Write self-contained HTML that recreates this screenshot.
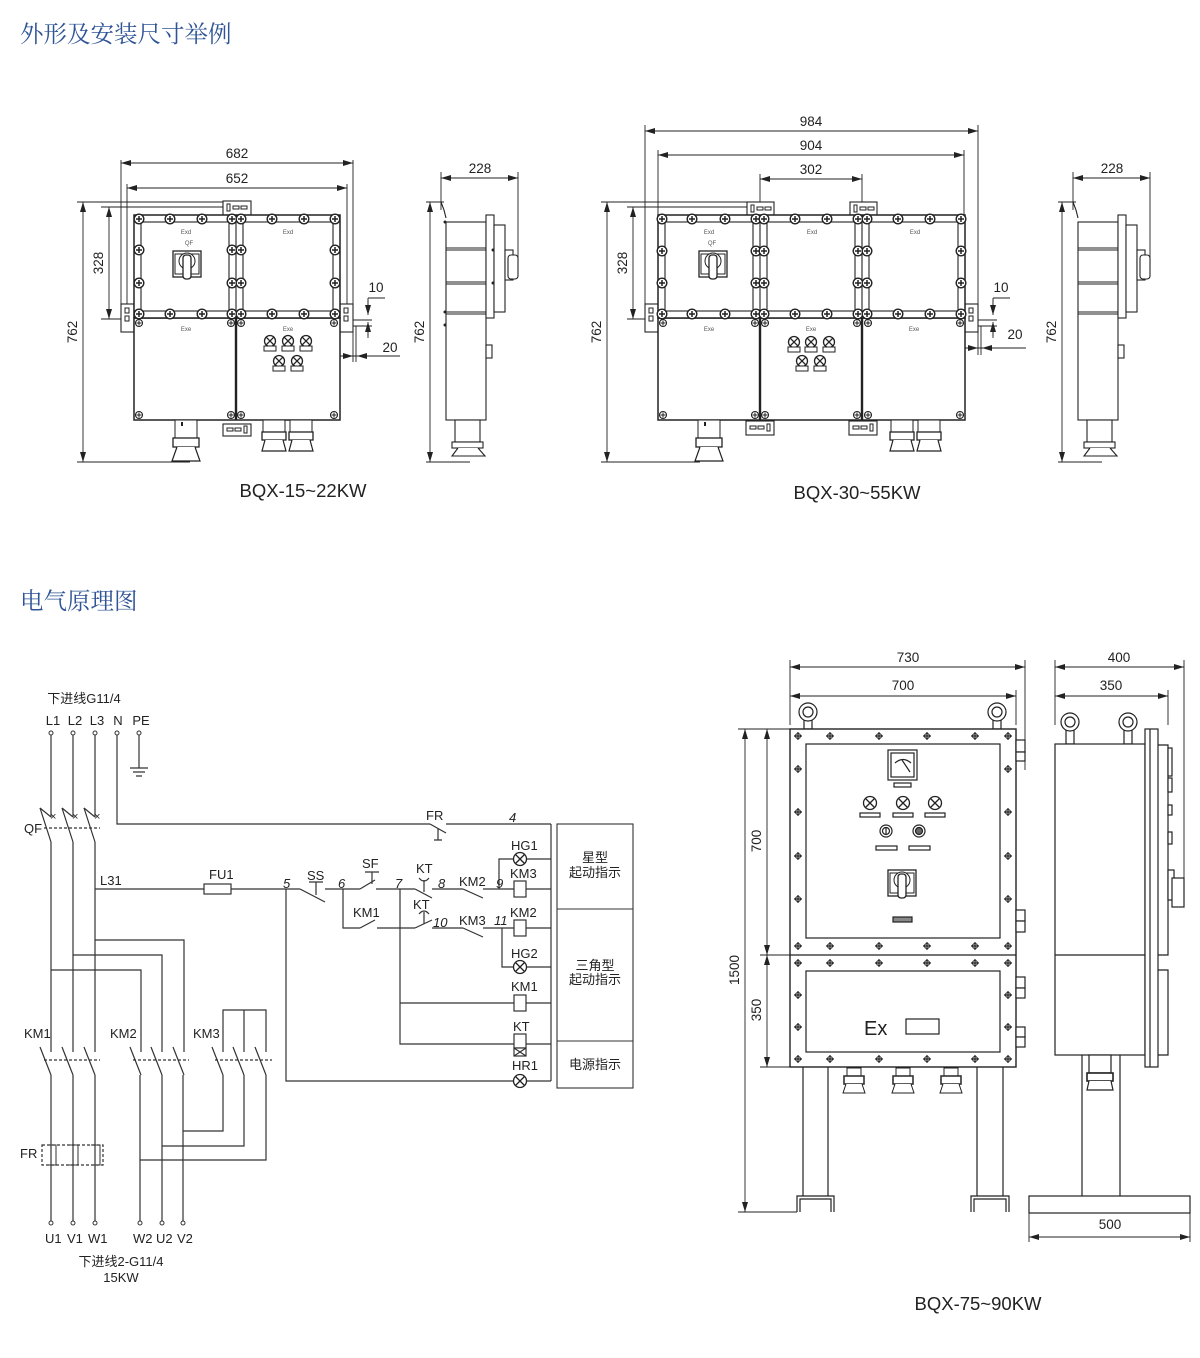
<!DOCTYPE html>
<html><head><meta charset="utf-8"><style>
html,body{margin:0;padding:0;background:#fff;}
svg{display:block;}
text{font-family:"Liberation Sans","Noto Sans CJK SC",sans-serif;fill:#222;}
.t{font-family:"Liberation Serif","Noto Serif CJK SC",serif;fill:#2f5496;font-size:23.5px;}
.d{font-size:13.5px;}
.tiny{font-size:6px;fill:#555;}
</style></head><body>
<svg width="1200" height="1358" viewBox="0 0 1200 1358" xmlns="http://www.w3.org/2000/svg">
<defs>
<marker id="a" viewBox="0 0 10 6" refX="10" refY="3" markerWidth="10" markerHeight="6" orient="auto-start-reverse" markerUnits="userSpaceOnUse"><path d="M0,0L10,3L0,6z" fill="#222"/></marker>
<g id="b"><circle r="4.8" fill="#fff" stroke="#222" stroke-width="1.4"/><path d="M-3,0H3M0,-3V3" stroke="#222" stroke-width="1.5"/></g>
<g id="sc"><circle r="3.5" fill="#fff" stroke="#222" stroke-width="1.1"/><path d="M-2.5,0H2.5M0,-2.5V2.5" stroke="#222"/></g>
<g id="fb"><path d="M-4,0H4M0,-4V4" stroke="#222" stroke-width="1.2"/><circle r="2.5" fill="none" stroke="#222" stroke-width="1.1"/></g>
<g id="lp"><circle r="5.5" fill="#fff" stroke="#222" stroke-width="1.3"/><path d="M-3.8,-3.8L3.8,3.8M3.8,-3.8L-3.8,3.8" stroke="#222" stroke-width="1.3"/><rect x="-6" y="5" width="12" height="5" fill="#fff" stroke="#222"/></g>
<g id="xl"><circle r="6.5" fill="#fff" stroke="#222" stroke-width="1.3"/><path d="M-4.5,-4.5L4.5,4.5M4.5,-4.5L-4.5,4.5" stroke="#222" stroke-width="1.3"/></g>
<g id="gl"><rect x="-11" y="0" width="22" height="18" fill="#fff" stroke="#222"/><rect x="-13" y="18" width="26" height="9" fill="#fff" stroke="#222" stroke-width="1.3"/><path d="M-9,27L-14,41H14L9,27" fill="#fff" stroke="#222" stroke-width="1.2"/><rect x="-5" y="2" width="2" height="4" fill="#222"/></g>
<g id="gl2"><rect x="-11" y="0" width="22" height="12" fill="#fff" stroke="#222"/><rect x="-12" y="12" width="24" height="8" fill="#fff" stroke="#222" stroke-width="1.3"/><path d="M-9,20L-12,31H12L9,20" fill="#fff" stroke="#222" stroke-width="1.2"/></g>
<g id="gb"><rect x="-7" y="0" width="14" height="8" fill="#fff" stroke="#222"/><rect x="-10" y="8" width="20" height="8" fill="#fff" stroke="#333" stroke-width="1.6"/><path d="M-8,16L-11,25H11L8,16" fill="#fff" stroke="#222"/></g>
<g id="sw"><rect x="-14" y="0" width="28" height="26" fill="#fff" stroke="#222" stroke-width="1.3"/><rect x="-12" y="3" width="24" height="20" fill="none" stroke="#222"/><circle cx="0" cy="10" r="8" fill="#fff" stroke="#222"/><rect x="-4" y="4" width="8" height="24" rx="3" fill="#fff" stroke="#222" stroke-width="1.3"/></g>
</defs>

<text class="t" x="20" y="42">外形及安装尺寸举例</text>
<text class="t" x="20" y="609">电气原理图</text>

<g stroke="#222" stroke-width="0.9" fill="none">
<path d="M121,160V330M353,160V330M127,184V305M347,184V305"/>
<path d="M121,163H353" marker-start="url(#a)" marker-end="url(#a)"/>
<path d="M127,188H347" marker-start="url(#a)" marker-end="url(#a)"/>
<path d="M77,202H240M101,207H230M77,462H190M101,319H134"/>
<path d="M83,202V462" marker-start="url(#a)" marker-end="url(#a)"/>
<path d="M109,207V319" marker-start="url(#a)" marker-end="url(#a)"/>
<path d="M368,298H385M368,298V310M368,336V325M348,320H372M348,326H372M353,326V362M356,326V362M344,356H400M348,356H340" />
<path d="M368,300V315" marker-end="url(#a)"/><path d="M368,338V322" marker-end="url(#a)"/>
<path d="M340,356H353" marker-end="url(#a)"/><path d="M372,356H357" marker-end="url(#a)"/>
<path d="M441,172V210M518,172V260"/>
<path d="M441,178H518" marker-start="url(#a)" marker-end="url(#a)"/>
<path d="M426,202H444M426,462H470"/>
<path d="M430,202V462" marker-start="url(#a)" marker-end="url(#a)"/>
</g>
<text class="d" x="237" y="158" text-anchor="middle">682</text>
<text class="d" x="237" y="183" text-anchor="middle">652</text>
<text class="d" x="77" y="332" text-anchor="middle" transform="rotate(-90 77 332)">762</text>
<text class="d" x="103" y="263" text-anchor="middle" transform="rotate(-90 103 263)">328</text>
<text class="d" x="376" y="292" text-anchor="middle">10</text>
<text class="d" x="390" y="352" text-anchor="middle">20</text>
<text class="d" x="480" y="173" text-anchor="middle">228</text>
<text class="d" x="424" y="332" text-anchor="middle" transform="rotate(-90 424 332)">762</text>

<g stroke="#222" fill="#fff" stroke-width="1.1">
<rect x="223" y="201" width="28" height="14"/>
<rect x="121" y="304" width="13" height="28"/>
<rect x="340" y="304" width="13" height="28"/>
<rect x="134" y="318" width="206" height="102" stroke-width="1.5"/>
<rect x="134" y="215" width="206" height="103" stroke-width="1.5"/>
<rect x="141" y="222" width="88" height="89"/>
<rect x="243" y="222" width="90" height="89"/>
<path d="M236,215V318" />
<path d="M236,318V420" stroke-width="2.4"/>
<rect x="223" y="424" width="28" height="12"/>
</g>
<g fill="none" stroke="#222" stroke-width="1"><rect x="227" y="204" width="3" height="7"/><rect x="233" y="206" width="6" height="3"/><rect x="241" y="206" width="6" height="3"/>
<rect x="125" y="308" width="4" height="5"/><rect x="125" y="316" width="4" height="5"/><rect x="344" y="308" width="4" height="5"/><rect x="344" y="316" width="4" height="5"/>
<rect x="227" y="428" width="6" height="3"/><rect x="235" y="428" width="6" height="3"/><rect x="244" y="426" width="3" height="7"/></g>
<g>
<use href="#b" x="139" y="219"/><use href="#b" x="170" y="219"/><use href="#b" x="202" y="219"/><use href="#b" x="232" y="219"/><use href="#b" x="241" y="219"/><use href="#b" x="272" y="219"/><use href="#b" x="304" y="219"/><use href="#b" x="335" y="219"/>
<use href="#b" x="139" y="314"/><use href="#b" x="170" y="314"/><use href="#b" x="202" y="314"/><use href="#b" x="232" y="314"/><use href="#b" x="241" y="314"/><use href="#b" x="272" y="314"/><use href="#b" x="304" y="314"/><use href="#b" x="335" y="314"/>
<use href="#b" x="139" y="250"/><use href="#b" x="139" y="283"/><use href="#b" x="232" y="250"/><use href="#b" x="232" y="283"/><use href="#b" x="241" y="250"/><use href="#b" x="241" y="283"/><use href="#b" x="335" y="250"/><use href="#b" x="335" y="283"/>
<use href="#sc" x="139" y="323"/><use href="#sc" x="231" y="323"/><use href="#sc" x="241" y="323"/><use href="#sc" x="334" y="323"/>
<use href="#sc" x="139" y="415"/><use href="#sc" x="231" y="415"/><use href="#sc" x="241" y="415"/><use href="#sc" x="334" y="415"/>
<use href="#sw" x="187" y="251"/>
<use href="#lp" x="270" y="341"/><use href="#lp" x="288" y="341"/><use href="#lp" x="306" y="341"/>
<use href="#lp" x="279" y="361"/><use href="#lp" x="297" y="361"/>
<use href="#gl" x="186" y="420"/><use href="#gl2" x="274" y="420"/><use href="#gl2" x="301" y="420"/>
</g>
<text class="tiny" x="186" y="234" text-anchor="middle">Exd</text><text class="tiny" x="288" y="234" text-anchor="middle">Exd</text>
<text class="tiny" x="189" y="245" text-anchor="middle">QF</text>
<text class="tiny" x="186" y="331" text-anchor="middle">Exe</text><text class="tiny" x="288" y="331" text-anchor="middle">Exe</text>

<g stroke="#222" fill="#fff" stroke-width="1.1">
<path d="M441,202L444,210L446,218" fill="none"/>
<rect x="446" y="222" width="40" height="198"/>
<rect x="486" y="215" width="8" height="103"/>
<rect x="494" y="225" width="11" height="87"/>
<rect x="505" y="250" width="8" height="30"/>
<rect x="508" y="255" width="10" height="24" rx="3"/>
<path d="M446,248H486M446,250H486M446,282H486M446,284H486M446,312H486M446,314H486"/>
<rect x="486" y="345" width="6" height="13"/>
<rect x="455" y="420" width="25" height="22"/>
<rect x="452" y="442" width="31" height="6"/>
<path d="M458,448L452,456H485L478,448"/>
</g>
<g fill="#222"><circle cx="445" cy="222" r="1.5"/><circle cx="445" cy="312" r="1.5"/><circle cx="445" cy="325" r="1.5"/><circle cx="493" cy="250" r="1.5"/><circle cx="493" cy="283" r="1.5"/></g>

<g stroke="#222" stroke-width="0.9" fill="none">
<path d="M645,125V330M978,125V330M658,150V305M964,150V305M760,174V210M862,174V210"/>
<path d="M645,131H978" marker-start="url(#a)" marker-end="url(#a)"/>
<path d="M658,155H964" marker-start="url(#a)" marker-end="url(#a)"/>
<path d="M760,179H862" marker-start="url(#a)" marker-end="url(#a)"/>
<path d="M601,202H760M627,207H750M601,462H700M627,319H658"/>
<path d="M607,202V462" marker-start="url(#a)" marker-end="url(#a)"/>
<path d="M633,207V319" marker-start="url(#a)" marker-end="url(#a)"/>
<path d="M993,298H1010M993,298V310M993,336V325M973,320H997M973,326H997M978,326V355M981,326V355M944,348H1026"/>
<path d="M993,300V315" marker-end="url(#a)"/><path d="M993,338V322" marker-end="url(#a)"/>
<path d="M965,348H978" marker-end="url(#a)"/><path d="M997,348H982" marker-end="url(#a)"/>
<path d="M1073,172V210M1150,172V260"/>
<path d="M1073,178H1150" marker-start="url(#a)" marker-end="url(#a)"/>
<path d="M1058,202H1076M1058,462H1102"/>
<path d="M1062,202V462" marker-start="url(#a)" marker-end="url(#a)"/>
</g>
<text class="d" x="811" y="126" text-anchor="middle">984</text>
<text class="d" x="811" y="150" text-anchor="middle">904</text>
<text class="d" x="811" y="174" text-anchor="middle">302</text>
<text class="d" x="601" y="332" text-anchor="middle" transform="rotate(-90 601 332)">762</text>
<text class="d" x="627" y="263" text-anchor="middle" transform="rotate(-90 627 263)">328</text>
<text class="d" x="1001" y="292" text-anchor="middle">10</text>
<text class="d" x="1015" y="339" text-anchor="middle">20</text>
<text class="d" x="1112" y="173" text-anchor="middle">228</text>
<text class="d" x="1056" y="332" text-anchor="middle" transform="rotate(-90 1056 332)">762</text>

<g stroke="#222" fill="#fff" stroke-width="1.1">
<rect x="747" y="202" width="27" height="13"/><rect x="850" y="202" width="27" height="13"/>
<rect x="645" y="304" width="13" height="28"/><rect x="965" y="304" width="13" height="28"/>
<rect x="658" y="318" width="307" height="102" stroke-width="1.5"/>
<rect x="658" y="215" width="307" height="103" stroke-width="1.5"/>
<rect x="665" y="222" width="88" height="89"/><rect x="767" y="222" width="88" height="89"/><rect x="869" y="222" width="89" height="89"/>
<path d="M760,215V318M862,215V318"/>
<path d="M760,318V420M862,318V420" stroke-width="2.4"/>
<rect x="746" y="421" width="28" height="14"/><rect x="849" y="421" width="28" height="14"/>
</g>
<g fill="none" stroke="#222"><rect x="751" y="205" width="3" height="7"/><rect x="757" y="207" width="6" height="3"/><rect x="765" y="207" width="6" height="3"/>
<rect x="854" y="205" width="3" height="7"/><rect x="860" y="207" width="6" height="3"/><rect x="868" y="207" width="6" height="3"/>
<rect x="649" y="308" width="4" height="5"/><rect x="649" y="316" width="4" height="5"/><rect x="969" y="308" width="4" height="5"/><rect x="969" y="316" width="4" height="5"/>
<rect x="750" y="426" width="6" height="3"/><rect x="758" y="426" width="6" height="3"/><rect x="767" y="424" width="3" height="7"/>
<rect x="853" y="426" width="6" height="3"/><rect x="861" y="426" width="6" height="3"/><rect x="870" y="424" width="3" height="7"/></g>
<g>
<use href="#b" x="662" y="219"/><use href="#b" x="692" y="219"/><use href="#b" x="725" y="219"/><use href="#b" x="756" y="219"/><use href="#b" x="764" y="219"/><use href="#b" x="795" y="219"/><use href="#b" x="827" y="219"/><use href="#b" x="858" y="219"/><use href="#b" x="867" y="219"/><use href="#b" x="898" y="219"/><use href="#b" x="930" y="219"/><use href="#b" x="961" y="219"/>
<use href="#b" x="662" y="314"/><use href="#b" x="692" y="314"/><use href="#b" x="725" y="314"/><use href="#b" x="756" y="314"/><use href="#b" x="764" y="314"/><use href="#b" x="795" y="314"/><use href="#b" x="827" y="314"/><use href="#b" x="858" y="314"/><use href="#b" x="867" y="314"/><use href="#b" x="898" y="314"/><use href="#b" x="930" y="314"/><use href="#b" x="961" y="314"/>
<use href="#b" x="662" y="251"/><use href="#b" x="662" y="283"/><use href="#b" x="756" y="251"/><use href="#b" x="756" y="283"/><use href="#b" x="764" y="251"/><use href="#b" x="764" y="283"/><use href="#b" x="858" y="251"/><use href="#b" x="858" y="283"/><use href="#b" x="867" y="251"/><use href="#b" x="867" y="283"/><use href="#b" x="961" y="251"/><use href="#b" x="961" y="283"/>
<use href="#sc" x="663" y="323"/><use href="#sc" x="755" y="323"/><use href="#sc" x="765" y="323"/><use href="#sc" x="857" y="323"/><use href="#sc" x="868" y="323"/><use href="#sc" x="960" y="323"/>
<use href="#sc" x="663" y="415"/><use href="#sc" x="755" y="415"/><use href="#sc" x="765" y="415"/><use href="#sc" x="857" y="415"/><use href="#sc" x="868" y="415"/><use href="#sc" x="960" y="415"/>
<use href="#sw" x="713" y="251"/>
<use href="#lp" x="794" y="342"/><use href="#lp" x="811" y="342"/><use href="#lp" x="829" y="342"/>
<use href="#lp" x="802" y="361"/><use href="#lp" x="820" y="361"/>
<use href="#gl" x="709" y="420"/><use href="#gl2" x="902" y="420"/><use href="#gl2" x="929" y="420"/>
</g>
<text class="tiny" x="709" y="234" text-anchor="middle">Exd</text><text class="tiny" x="812" y="234" text-anchor="middle">Exd</text><text class="tiny" x="915" y="234" text-anchor="middle">Exd</text>
<text class="tiny" x="712" y="245" text-anchor="middle">QF</text>
<text class="tiny" x="709" y="331" text-anchor="middle">Exe</text><text class="tiny" x="811" y="331" text-anchor="middle">Exe</text><text class="tiny" x="914" y="331" text-anchor="middle">Exe</text>

<g stroke="#222" fill="#fff" stroke-width="1.1">
<path d="M1073,202L1076,210L1078,218" fill="none"/>
<rect x="1078" y="222" width="40" height="198"/>
<rect x="1118" y="215" width="8" height="103"/>
<rect x="1126" y="225" width="11" height="87"/>
<rect x="1137" y="250" width="8" height="30"/>
<rect x="1140" y="255" width="10" height="24" rx="3"/>
<path d="M1078,248H1118M1078,250H1118M1078,282H1118M1078,284H1118M1078,312H1118M1078,314H1118"/>
<rect x="1118" y="345" width="6" height="13"/>
<rect x="1087" y="420" width="25" height="22"/>
<rect x="1084" y="442" width="31" height="6"/>
<path d="M1090,448L1084,456H1117L1110,448"/>
</g>

<text x="303" y="497" font-size="18.5" text-anchor="middle">BQX-15~22KW</text>
<text x="857" y="499" font-size="18.5" text-anchor="middle">BQX-30~55KW</text>

<g stroke="#333" stroke-width="1.2" fill="none">
<path d="M51,733V817M73,733V817M95,733V817M117,733V824H430M446,824H551M139,733V768"/>
<path d="M130,768H148M133,772H145M136,776H142"/>
<path d="M51,817L40,808M73,817L62,808M95,817L84,808" />
<path d="M40,808L51,842M62,808L73,842M84,808L95,842"/>
<path d="M51,842V1052M73,842V1052M95,842V1052"/>
<path d="M44,828H100" stroke-dasharray="3,2"/>
<path d="M95,889H204M231,889H300M286,889V1081H514M526,1081H551"/>
<rect x="204" y="884" width="27" height="10"/>
<path d="M300,889L325,902M316,895V882M309,882H323M325,889H343"/>
<path d="M343,889H360M360,889L375,880M372,884V872M365,872H379M376,889H400"/>
<path d="M400,889H415M415,889L432,898M424,892V880M419,878Q424,884 429,878M432,889H463M463,889L483,898M483,889H514M526,889H551"/>
<path d="M499,889V859H514M526,859H551"/>
<rect x="514" y="881" width="12" height="16" fill="#fff"/>
<path d="M343,889V928H360M360,928L375,920M377,928H415M415,928L432,920M424,924V912M419,914Q424,908 429,914M432,928H463M463,928L483,937M483,928H514M526,928H551"/>
<path d="M502,928V967H514M526,967H551"/>
<rect x="514" y="920" width="12" height="16" fill="#fff"/>
<path d="M400,889V1044H514M400,1003H514M526,1003H551M526,1044H551M551,824V1081"/>
<rect x="514" y="995" width="12" height="16" fill="#fff"/>
<rect x="514" y="1034" width="12" height="14" fill="#fff"/>
<rect x="514" y="1048" width="12" height="8" fill="#fff"/><path d="M514,1048L526,1056M526,1048L514,1056"/>
<path d="M430,824L446,833M438,828V840M434,840H442"/>
<path d="M95,940H184V1052M73,955H162V1052M51,970H141V1052"/>
<path d="M223,1052V1010H266V1052M244,1010V1052"/>
<path d="M51,1075L40,1047M73,1075L62,1047M95,1075L84,1047M141,1075L130,1047M162,1075L151,1047M184,1075L173,1047M223,1075L212,1047M244,1075L233,1047M266,1075L255,1047"/>
<path d="M44,1060H100M133,1060H189M215,1060H272" stroke-dasharray="3,2"/>
<path d="M51,1075V1223M73,1075V1223M95,1075V1223M140,1075V1223M162,1075V1223M183,1075V1223"/>
<path d="M223,1075V1131H183M244,1075V1146H162M266,1075V1160H140"/>
<rect x="42" y="1145" width="61" height="20" stroke-dasharray="3,2"/>
</g>
<g fill="#fff" stroke="#333" stroke-width="1">
<path d="M47,1145H56V1165H47M69,1145H78V1165H69M91,1145H100V1165H91" fill="none"/>
<circle cx="51" cy="733" r="2"/><circle cx="73" cy="733" r="2"/><circle cx="95" cy="733" r="2"/><circle cx="117" cy="733" r="2"/><circle cx="139" cy="733" r="2"/>
<circle cx="51" cy="1223" r="2"/><circle cx="73" cy="1223" r="2"/><circle cx="95" cy="1223" r="2"/><circle cx="140" cy="1223" r="2"/><circle cx="162" cy="1223" r="2"/><circle cx="183" cy="1223" r="2"/>
</g>
<g fill="#222" stroke="none">
<text x="50" y="820" font-size="11">×</text><text x="72" y="820" font-size="11">×</text><text x="94" y="820" font-size="11">×</text>
</g>
<use href="#xl" x="520" y="859"/><use href="#xl" x="520" y="967"/><use href="#xl" x="520" y="1081"/>
<g stroke="#333" fill="#fff" stroke-width="1.1"><rect x="557" y="824" width="76" height="264"/><path d="M557,909H633M557,1041H633"/></g>
<g font-size="13">
<text x="84" y="703" text-anchor="middle">下进线G11/4</text>
<text x="53" y="725" text-anchor="middle">L1</text><text x="75" y="725" text-anchor="middle">L2</text><text x="97" y="725" text-anchor="middle">L3</text><text x="118" y="725" text-anchor="middle">N</text><text x="141" y="725" text-anchor="middle">PE</text>
<text x="24" y="833">QF</text>
<text x="100" y="885">L31</text>
<text x="209" y="879">FU1</text>
<text x="283" y="888" font-style="italic">5</text>
<text x="307" y="880">SS</text>
<text x="338" y="888" font-style="italic">6</text>
<text x="362" y="868">SF</text>
<text x="395" y="888" font-style="italic">7</text>
<text x="416" y="873">KT</text>
<text x="438" y="888" font-style="italic">8</text>
<text x="459" y="886">KM2</text>
<text x="496" y="888" font-style="italic">9</text>
<text x="426" y="820">FR</text>
<text x="509" y="822" font-style="italic">4</text>
<text x="353" y="917">KM1</text>
<text x="413" y="909">KT</text>
<text x="433" y="927" font-style="italic">10</text>
<text x="459" y="925">KM3</text>
<text x="494" y="925" font-style="italic">11</text>
<text x="511" y="850">HG1</text>
<text x="510" y="878">KM3</text>
<text x="510" y="917">KM2</text>
<text x="511" y="958">HG2</text>
<text x="511" y="991">KM1</text>
<text x="513" y="1031">KT</text>
<text x="512" y="1070">HR1</text>
<text x="595" y="862" text-anchor="middle">星型</text>
<text x="595" y="877" text-anchor="middle">起动指示</text>
<text x="595" y="970" text-anchor="middle">三角型</text>
<text x="595" y="984" text-anchor="middle">起动指示</text>
<text x="595" y="1069" text-anchor="middle">电源指示</text>
<text x="24" y="1038">KM1</text><text x="110" y="1038">KM2</text><text x="193" y="1038">KM3</text>
<text x="20" y="1158">FR</text>
<text x="45" y="1243">U1</text><text x="67" y="1243">V1</text><text x="88" y="1243">W1</text>
<text x="133" y="1243">W2</text><text x="156" y="1243">U2</text><text x="177" y="1243">V2</text>
<text x="121" y="1266" text-anchor="middle">下进线2-G11/4</text>
<text x="121" y="1282" text-anchor="middle">15KW</text>
</g>

<g stroke="#222" stroke-width="0.9" fill="none">
<path d="M790,660V725M1025,660V770M1016,690V725"/>
<path d="M790,667H1025" marker-start="url(#a)" marker-end="url(#a)"/>
<path d="M790,696H1016" marker-start="url(#a)" marker-end="url(#a)"/>
<path d="M738,729H790M760,955H790M760,1067H790M738,1212H797"/>
<path d="M745,729V1212" marker-start="url(#a)" marker-end="url(#a)"/>
<path d="M767,729V955" marker-start="url(#a)" marker-end="url(#a)"/>
<path d="M767,955V1067" marker-start="url(#a)" marker-end="url(#a)"/>
<path d="M1055,660V725M1184,660V880M1168,690V725"/>
<path d="M1055,667H1184" marker-start="url(#a)" marker-end="url(#a)"/>
<path d="M1055,696H1168" marker-start="url(#a)" marker-end="url(#a)"/>
<path d="M1029,1213V1242M1190,1213V1242"/>
<path d="M1029,1237H1190" marker-start="url(#a)" marker-end="url(#a)"/>
</g>
<text class="d" x="908" y="662" text-anchor="middle">730</text>
<text class="d" x="903" y="690" text-anchor="middle">700</text>
<text class="d" x="739" y="970" text-anchor="middle" transform="rotate(-90 739 970)">1500</text>
<text class="d" x="761" y="841" text-anchor="middle" transform="rotate(-90 761 841)">700</text>
<text class="d" x="761" y="1010" text-anchor="middle" transform="rotate(-90 761 1010)">350</text>
<text class="d" x="1119" y="662" text-anchor="middle">400</text>
<text class="d" x="1111" y="690" text-anchor="middle">350</text>
<text class="d" x="1110" y="1229" text-anchor="middle">500</text>

<g stroke="#222" fill="#fff" stroke-width="1.2">
<path d="M803,1067V1196M828,1067V1196M977,1067V1196M1003,1067V1196"/>
<path d="M797,1212V1196H834V1212M800,1212V1199H831V1212" fill="none"/>
<path d="M971,1212V1196H1009V1212M974,1212V1199H1006V1212" fill="none"/>
<rect x="804" y="720" width="8" height="9"/><circle cx="808" cy="712" r="9"/><circle cx="808" cy="712" r="5"/>
<rect x="993" y="720" width="8" height="9"/><circle cx="997" cy="712" r="9"/><circle cx="997" cy="712" r="5"/>
<rect x="790" y="729" width="226" height="338" stroke-width="1.4"/>
<path d="M790,955H1016"/>
<rect x="806" y="744" width="194" height="194"/>
<rect x="806" y="971" width="194" height="81"/>
<rect x="1016" y="740" width="9" height="12"/><rect x="1016" y="752" width="9" height="9"/>
<rect x="1016" y="910" width="9" height="11"/><rect x="1016" y="921" width="9" height="11"/>
<rect x="1016" y="977" width="9" height="11"/><rect x="1016" y="988" width="9" height="10"/>
<rect x="1016" y="1027" width="9" height="10"/><rect x="1016" y="1037" width="9" height="10"/>
<rect x="888" y="750" width="29" height="30"/><rect x="891" y="753" width="23" height="24"/>
<path d="M895,763Q903,756 911,763M902,760L910,772" fill="none"/>
<rect x="894" y="783" width="17" height="4"/>
<rect x="860" y="813" width="20" height="4"/><rect x="893" y="813" width="20" height="4"/><rect x="925" y="813" width="20" height="4"/>
<circle cx="886" cy="831" r="6"/><circle cx="886" cy="831" r="3.5"/><path d="M886,828V834"/>
<circle cx="919" cy="831" r="6"/><circle cx="919" cy="831" r="3.5" fill="#666"/>
<rect x="876" y="846" width="21" height="4"/><rect x="909" y="846" width="21" height="4"/>
<rect x="893" y="917" width="19" height="5" fill="#888"/>
<rect x="906" y="1019" width="33" height="15"/>
</g>
<use href="#xl" x="870" y="803"/><use href="#xl" x="903" y="803"/><use href="#xl" x="935" y="803"/>
<use href="#sw" x="902" y="870"/>
<g>
<use href="#fb" x="798" y="736"/><use href="#fb" x="830" y="736"/><use href="#fb" x="879" y="736"/><use href="#fb" x="927" y="736"/><use href="#fb" x="975" y="736"/><use href="#fb" x="1008" y="736"/>
<use href="#fb" x="798" y="769"/><use href="#fb" x="798" y="812"/><use href="#fb" x="798" y="856"/><use href="#fb" x="798" y="899"/>
<use href="#fb" x="1008" y="769"/><use href="#fb" x="1008" y="812"/><use href="#fb" x="1008" y="856"/><use href="#fb" x="1008" y="899"/>
<use href="#fb" x="798" y="946"/><use href="#fb" x="830" y="946"/><use href="#fb" x="879" y="946"/><use href="#fb" x="927" y="946"/><use href="#fb" x="975" y="946"/><use href="#fb" x="1008" y="946"/>
<use href="#fb" x="798" y="963"/><use href="#fb" x="830" y="963"/><use href="#fb" x="879" y="963"/><use href="#fb" x="927" y="963"/><use href="#fb" x="975" y="963"/><use href="#fb" x="1008" y="963"/>
<use href="#fb" x="798" y="995"/><use href="#fb" x="798" y="1027"/><use href="#fb" x="1008" y="995"/><use href="#fb" x="1008" y="1027"/>
<use href="#fb" x="798" y="1059"/><use href="#fb" x="830" y="1059"/><use href="#fb" x="879" y="1059"/><use href="#fb" x="927" y="1059"/><use href="#fb" x="975" y="1059"/><use href="#fb" x="1008" y="1059"/>
<use href="#gb" x="854" y="1068"/><use href="#gb" x="903" y="1068"/><use href="#gb" x="951" y="1068"/>
</g>
<text x="864" y="1035" font-size="20">Ex</text>

<g stroke="#222" fill="#fff" stroke-width="1.2">
<path d="M1082,1055V1196M1120,1055V1196"/>
<rect x="1029" y="1196" width="161" height="17"/>
<rect x="1066" y="728" width="8" height="16"/><circle cx="1070" cy="722" r="9"/><circle cx="1070" cy="722" r="5"/>
<rect x="1124" y="728" width="8" height="16"/><circle cx="1128" cy="722" r="9"/><circle cx="1128" cy="722" r="5"/>
<rect x="1055" y="744" width="90" height="311"/>
<path d="M1055,955H1145"/>
<rect x="1145" y="729" width="13" height="338"/>
<path d="M1150,729V1067"/>
<path d="M1158,745H1168V955H1158M1158,970H1168V1055H1158" fill="none"/>
<rect x="1168" y="748" width="4" height="28"/><rect x="1168" y="778" width="4" height="14"/><rect x="1168" y="805" width="4" height="10"/><rect x="1168" y="832" width="4" height="12"/>
<rect x="1168" y="870" width="6" height="30"/><rect x="1172" y="878" width="12" height="29"/>
<rect x="1089" y="1055" width="22" height="18"/><rect x="1087" y="1073" width="26" height="8" stroke-width="1.6"/><path d="M1089,1081L1087,1090H1113L1111,1081"/>
</g>

<text x="978" y="1310" font-size="18.5" text-anchor="middle">BQX-75~90KW</text>
</svg>
</body></html>
